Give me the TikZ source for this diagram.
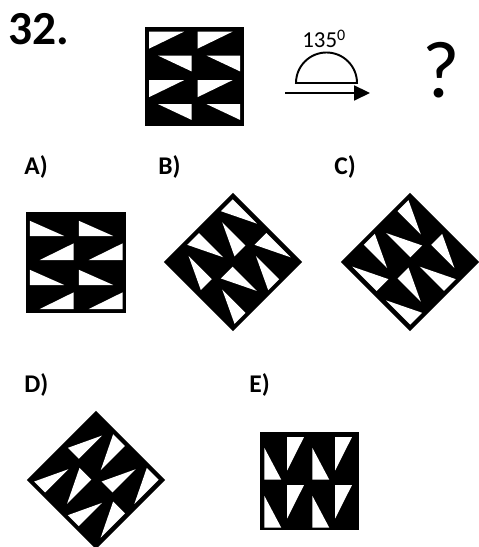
\documentclass[tikz,border=0pt]{standalone}
\usepackage{fontspec}
\setmainfont{Carlito}
\usetikzlibrary{arrows.meta}

\tikzset{
  optlabel/.style={anchor=base west,inner sep=0pt,font=\bfseries\fontsize{14.5}{16}\selectfont},
  tileframe/.style={line width=1.5pt},
}

% question tile: 2 columns, 4 rows of flat triangles
\newcommand{\tilepattern}{%
  \fill[black] (-2,-2) rectangle (2,2);
  \foreach \c in {-2,0} {
    \foreach \r in {2,0} {
      \fill[white] (\c+0.13,\r-0.15) -- (\c+1.57,\r-0.15) -- (\c+0.13,\r-0.85) -- cycle;
      \fill[white] (\c+0.5,\r-1.14) -- (\c+1.88,\r-1.14) -- (\c+1.88,\r-1.79) -- cycle;
    }
  }
  \draw[tileframe] (-2,-2) rectangle (2,2);
}
% option A: each row turned upside down
\newcommand{\flippattern}{%
  \fill[black] (-2,-2) rectangle (2,2);
  \foreach \c in {-2,0} {
    \foreach \r in {2,0} {
      \fill[white] (\c+0.12,\r-0.3) -- (\c+0.12,\r-0.92) -- (\c+1.52,\r-0.92) -- cycle;
      \fill[white] (\c+0.52,\r-1.9) -- (\c+1.9,\r-1.9) -- (\c+1.9,\r-1.22) -- cycle;
    }
  }
  \draw[tileframe] (-2,-2) rectangle (2,2);
}
% option E: 4 columns, 2 rows of tall triangles
\newcommand{\columnpattern}{%
  \fill[black] (-2,-2) rectangle (2,2);
  \foreach \c in {-2,0} {
    \foreach \r in {2,0} {
      \fill[white] (\c+0.12,\r-0.62) -- (\c+0.12,\r-1.94) -- (\c+0.82,\r-1.94) -- cycle;
      \fill[white] (\c+1.07,\r-0.17) -- (\c+1.77,\r-0.17) -- (\c+1.07,\r-1.56) -- cycle;
    }
  }
  \draw[tileframe] (-2,-2) rectangle (2,2);
}

\begin{document}
\begin{tikzpicture}[x=0.02cm,y=0.02cm,>={Triangle[length=9pt,width=8.5pt]}]
  \useasboundingbox (0,0) rectangle (478,547);
  \node[anchor=base west,inner sep=0pt,font=\bfseries\fontsize{27}{30}\selectfont] (qnum) at (8,502) {32.};

  % question
  \begin{scope}[shift={(194.5,470.5)},scale=24.25]
    \tilepattern
  \end{scope}
  \node[anchor=base west,inner sep=0pt,font=\fontsize{13}{15}\selectfont] (angle) at (302,499) {135\textsuperscript{0}};
  \draw[line width=1.1pt] (296,464) arc[start angle=180,end angle=0,radius=30.5] -- cycle;
  \coordinate (arrtail) at (285,454);
  \coordinate (arrhead) at (370,454);
  \draw[->,line width=0.9pt] (arrtail) -- (arrhead);
  \node[anchor=base west,inner sep=0pt,font=\fontsize{46}{50}\selectfont] (qmark) at (422,449) {?};

  % answers
  \node[optlabel] (labA) at (24,372) {A)};
  \node[optlabel] (labB) at (158,372) {B)};
  \node[optlabel] (labC) at (334,372) {C)};
  \node[optlabel] (labD) at (24,154) {D)};
  \node[optlabel] (labE) at (249,154) {E)};

  \begin{scope}[shift={(76,284.5)},scale=24.5]
    \flippattern
  \end{scope}
  \begin{scope}[shift={(233,285)},rotate=-45,scale=23.8]
    \tilepattern
  \end{scope}
  \begin{scope}[shift={(410,285)},rotate=135,scale=23.8]
    \tilepattern
  \end{scope}
  \begin{scope}[shift={(96,67)},rotate=-135,scale=23.8]
    \tilepattern
  \end{scope}
  \begin{scope}[shift={(309.5,66)},scale=24]
    \columnpattern
  \end{scope}
\end{tikzpicture}
\end{document}
